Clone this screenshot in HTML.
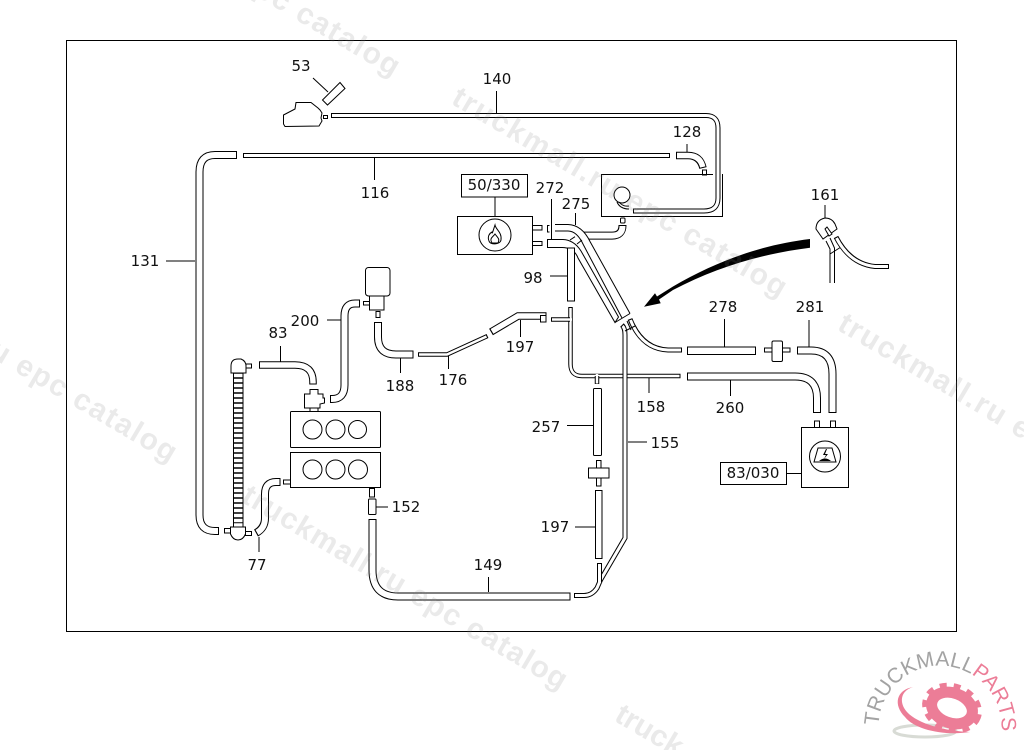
<!DOCTYPE html>
<html><head><meta charset="utf-8"><title>Diagram</title>
<style>
html,body{margin:0;padding:0;background:#fff;width:1024px;height:750px;overflow:hidden}
svg{display:block;overflow:hidden}
text{font-family:"DejaVu Sans","Liberation Sans",sans-serif;font-size:15px;text-anchor:middle;fill:#111}
.l{fill:none;stroke:#000;stroke-width:1}
.s{fill:#fff;stroke:#000;stroke-width:1}
.o,.i{fill:none}
.o{stroke:#000}.i{stroke:#fff}
.wm text{font-family:"Liberation Sans",sans-serif;font-weight:bold;font-size:30px;fill:#808080;fill-opacity:.17;text-anchor:start}
</style></head><body>
<svg width="1024" height="750" viewBox="0 0 1024 750" xmlns="http://www.w3.org/2000/svg">
<rect x="66.5" y="40.5" width="890" height="591" class="s"/>

<!-- tube 140 -->
<g fill="none">
<path class="o" stroke-width="5" d="M331 115.5H706Q718 115.5 718 128V198Q718 211 704 211H633"/>
<path class="i" stroke-width="3" d="M332 115.5H706Q718 115.5 718 128V198Q718 211 704 211H634"/>
<!-- tube 116 -->
<path class="o" stroke-width="5" d="M243 155.5H670"/><path class="i" stroke-width="3" d="M244 155.5H669"/>
<!-- 131 -->
<path class="o" stroke-width="8" d="M237 155H215Q199.5 155 199.5 172V515Q199.5 531 215 531H219"/>
<path class="i" stroke-width="6" d="M236 155H215Q199.5 155 199.5 172V515Q199.5 531 215 531H218"/>
<!-- 128 -->
<path class="o" stroke-width="7.5" d="M676 155.5H688Q700 155.5 703 168"/>
<path class="i" stroke-width="5.5" d="M677 155.5H688Q700 155.5 702.8 167"/>
</g>
<rect x="702.5" y="170" width="4" height="5" class="s"/>
<path class="l" d="M713 174.5H601.5V216.5H722.5V174"/>
<circle cx="622" cy="195" r="8" class="s"/>
<path class="l" d="M617 202Q620 209 629 209M619 202Q623 207 629 206"/>
<path class="l" d="M496.5 91V113M374.5 158V180M687 144V152M166 261H195"/>

<!-- 53 -->
<path class="l" d="M313 78L328 92"/>
<path class="s" d="M340 82.5L345 88.5L327.5 105L322.5 100Z"/>
<path class="s" d="M283.5 115L295 109L296 102.5H311L318 108L320 110L322 113L321 118L322 121L319 126L285 126.5L283.5 124Z"/>
<rect x="323.5" y="115.5" width="4" height="3" class="s"/>

<!-- 50/330 -->
<rect x="461.5" y="174.5" width="66" height="22.5" class="s"/>
<path class="l" d="M495 197V216"/>
<rect x="457.5" y="216.5" width="75" height="38" class="s"/>
<circle cx="495" cy="235" r="16" class="s"/>
<path class="l" d="M495 225C496 230 502 232 501 240C500 245 490 245 489 241C487 236 490 233 492 232C492 235 493 231 495 225Z"/>
<path class="s" stroke-width="1.5" d="M492 243C489 238 493 237 495 234C498 238 500 239 498 243Z"/>
<rect x="532.5" y="225.5" width="9.5" height="4.5" class="s"/>
<rect x="532.5" y="241.5" width="9.5" height="4" class="s"/>
<path class="l" d="M549.5 225.5H547.5V232H549.5"/>

<!-- 272/275 tubes -->
<rect x="620.5" y="218" width="4.5" height="5" rx="1" class="s"/>
<g fill="none">
<path class="o" stroke-width="8" d="M584 235.6H612Q622.5 235.6 622.5 225"/>
<path class="i" stroke-width="6" d="M580 235.6H612Q622.5 235.6 622.5 226"/>
</g>
<path fill="#fff" d="M555 224.5H568Q582 225 590 241.5L630 313.5L622 318L583.5 245Q577 231 568 231H555Z"/>
<path class="l" d="M555 224.5H568Q582 225 590 241.5L630 313.5M555 231H568Q577 231 583.5 245L622 318"/>
<path class="s" d="M547.5 239.5H563Q574 240 581 251L618.5 317L615 322.5L578 258Q574 247.5 562 247.5H547.5Z"/>
<path class="l" d="M570 240L575 236.7M577 244L582 240"/>
<path class="l" d="M551.5 199V239M575.5 213V225"/>
<path class="l" d="M615 322.5L630 313.5"/>
<rect x="567.5" y="248" width="7" height="53" class="s"/>
<path class="l" d="M550 276H567"/>

<!-- T 158 -->
<g fill="none">
<path class="o" stroke-width="4.5" d="M570.5 307V364Q570.5 376 582 376H680.5"/>
<path class="i" stroke-width="2.5" d="M570.5 308V364Q570.5 376 582 376H679.5"/>
<path class="o" stroke-width="4.5" d="M551 319.5H570"/><path class="i" stroke-width="2.5" d="M552 319.5H572"/>
<path class="o" stroke-width="4.5" d="M597 376V384"/><path class="i" stroke-width="2.5" d="M597 374V383.5"/>
<!-- right of junction -->
<path class="o" stroke-width="5" d="M630 319Q642 349 668 350H682"/>
<path class="i" stroke-width="3" d="M630.5 320Q642 349 668 350H681"/>
<!-- 155 -->
<path class="o" stroke-width="5" d="M622 325Q625 328 625 335V538L600.5 580L597 588Q592 595.5 584 595.5H574"/>
<path class="i" stroke-width="3" d="M622.5 326Q625 328 625 335V538L600.5 580L597 588Q592 595.5 584 595.5H575"/>
<path class="o" stroke-width="5" d="M599.5 563V582"/><path class="i" stroke-width="3" d="M599.5 564V583"/>
<!-- 149 -->
<path class="o" stroke-width="8" d="M372.5 519V570Q372.5 596.5 398 596.5H570.5"/>
<path class="i" stroke-width="6" d="M372.5 520V570Q372.5 596.5 398 596.5H569.5"/>
</g>
<path class="l" d="M625 331L635 326M627 321L631 330"/>
<path class="l" d="M628 442H647M649 378V393"/>

<rect x="593.5" y="388.5" width="8" height="67" rx="1" class="s"/>
<path class="l" d="M567 425.5H593"/>
<rect x="596.5" y="460.5" width="4.5" height="8" class="s"/>
<rect x="596.5" y="478" width="4.5" height="8" class="s"/>
<rect x="588.5" y="468" width="20.5" height="10" class="s"/>
<rect x="595.5" y="490.5" width="6.5" height="68" class="s"/>
<path class="l" d="M575 527H595"/>
<rect x="369.5" y="488.5" width="5" height="8.5" class="s"/>
<rect x="368.5" y="499" width="7.5" height="15.5" rx="1" class="s"/>
<path class="l" d="M376 507H388M488.5 577V592"/>

<!-- left area -->
<rect x="365.5" y="267.5" width="24.5" height="28.5" rx="3" class="s"/>
<path class="s" d="M369.5 296H384V310H369.5Z"/>
<rect x="376" y="311.5" width="4" height="6" class="s"/>
<rect x="363.5" y="301.5" width="6" height="3.5" class="s"/>
<g fill="none">
<path class="o" stroke-width="8" d="M360 303.5H355Q344.5 303.5 344.5 316V385Q344.5 399 332 399H330"/>
<path class="i" stroke-width="6" d="M359 303.5H355Q344.5 303.5 344.5 316V385Q344.5 399 332 399H331"/>
<path class="o" stroke-width="7.5" d="M259 365H295Q313 365 313 382V384.5"/>
<path class="i" stroke-width="5.5" d="M260 365H295Q313 365 313 382V383.5"/>
<path class="o" stroke-width="8" d="M378 322V337Q378 354.5 396 354.5H413.5"/>
<path class="i" stroke-width="6" d="M378 323V337Q378 354.5 396 354.5H412.5"/>
<path class="o" stroke-width="4.5" d="M418 354.5H447L487.5 336"/>
<path class="i" stroke-width="2.5" d="M419 354.5H447L486.5 336.5"/>
<path class="o" stroke-width="7.5" d="M491 332L518 316H546.5"/>
<path class="i" stroke-width="5.5" d="M492 331.4L518 316H545.5"/>
<path class="o" stroke-width="8" d="M280.5 482H276Q265 482 265 494V518Q265 528 256 533"/>
<path class="i" stroke-width="6" d="M279.5 482H276Q265 482 265 494V518Q265 528 257 532.5"/>
</g>
<rect x="540.5" y="315.5" width="5.5" height="6.5" class="s"/>
<path class="l" d="M327 320H341M280.5 346V362M400.5 358V373M448.5 356V369M520.5 320V337M259 537V552"/>

<path class="s" d="M304.5 394H310V389.5H318V394H323V398H324.5V403L320 404V408H304.5Z"/>
<path class="l" d="M310 408V411.5M318 408V411.5"/>
<rect x="290.5" y="411.5" width="90" height="36" rx="1" class="s"/>
<circle cx="312.5" cy="429.5" r="9.5" class="s"/><circle cx="335.5" cy="429.5" r="9.5" class="s"/><circle cx="357.5" cy="429.5" r="9" class="s"/>
<rect x="290.5" y="452.5" width="90" height="35" class="s"/>
<circle cx="312.5" cy="469.5" r="9.5" class="s"/><circle cx="335.5" cy="469.5" r="9.5" class="s"/><circle cx="358" cy="469.5" r="9.5" class="s"/>
<rect x="283.5" y="480" width="7" height="4" class="s"/>

<!-- bellows -->
<rect x="233.5" y="373" width="9.5" height="154" fill="#000" stroke="#000"/>
<path stroke="#fff" stroke-width="3.4" d="M234 375.5H242.5M234 380.5H242.5M234 385.5H242.5M234 390.5H242.5M234 395.5H242.5M234 400.5H242.5M234 405.5H242.5M234 410.5H242.5M234 415.5H242.5M234 420.5H242.5M234 425.5H242.5M234 430.5H242.5M234 435.5H242.5M234 440.5H242.5M234 445.5H242.5M234 450.5H242.5M234 455.5H242.5M234 460.5H242.5M234 465.5H242.5M234 470.5H242.5M234 475.5H242.5M234 480.5H242.5M234 485.5H242.5M234 490.5H242.5M234 495.5H242.5M234 500.5H242.5M234 505.5H242.5M234 510.5H242.5M234 515.5H242.5M234 520.5H242.5M234 525H242.5"/>
<path class="s" d="M231 373V366Q231 359 238 359H241Q246 361 246 366V373Z"/>
<rect x="246" y="364" width="5.5" height="4" class="s"/>
<path class="s" d="M230.5 527H245.5V534Q243 540 238 540Q233 540 230.5 534Z"/>
<rect x="245.5" y="531.5" width="6" height="4" class="s"/>
<rect x="224.5" y="528.5" width="6" height="4.5" class="s"/>

<!-- right side -->
<rect x="687.5" y="347" width="68" height="7.5" class="s"/>
<path class="l" d="M724.5 319V347"/>
<rect x="764.5" y="348" width="25.5" height="4" class="s"/>
<rect x="772" y="341" width="10.5" height="20.5" rx="1.5" class="s"/>
<g fill="none">
<path class="o" stroke-width="8" d="M797 350.5H811Q832.5 350.5 832.5 374V413"/>
<path class="i" stroke-width="6" d="M798 350.5H811Q832.5 350.5 832.5 374V412"/>
<path class="o" stroke-width="8" d="M687 376.5H795Q817 376.5 817 398V413"/>
<path class="i" stroke-width="6" d="M688 376.5H795Q817 376.5 817 398V412"/>
</g>
<path class="l" d="M809 320V347M730.5 380V396"/>
<rect x="814.5" y="421" width="5" height="6.5" class="s"/>
<rect x="830.5" y="421" width="5" height="6.5" class="s"/>
<rect x="801.5" y="427.5" width="47" height="60" class="s"/>
<circle cx="825" cy="456.5" r="15.5" class="s"/>
<path class="l" d="M818 448H832L836 462H814Z"/>
<path d="M826 449L823 455L826 455L824 459L828 454L825 454L827 449Z M819 461Q825 456 831 461Z" fill="#000"/>
<rect x="720.5" y="462.5" width="66" height="22" class="s"/>
<path class="l" d="M786.5 473.5H801.5"/>

<!-- 161 -->
<path class="l" d="M825 205V218"/>
<path class="s" d="M823 239L816 229Q816 220 825 218Q832 218 835 224L837 229Z"/>
<path class="s" d="M825 229L827 227L832 234L829 236Z"/>
<path class="l" d="M826 241L830 249V283M830 238L834.5 248V283M830 254L841 247"/>
<g fill="none">
<path class="o" stroke-width="5" d="M836 237Q850 264 875 266.5H889"/>
<path class="i" stroke-width="3" d="M836.5 238Q850 264 875 266.5H888"/>
</g>

<!-- big arrow -->
<path fill="#000" d="M810 239C760 245 715 262 673 286.5L657 296.5L655 293.3L644 306.7L660.7 303.3L659 299.5L673 290C715 268 760 254 810 247.7Z"/>

<!-- labels -->
<text x="301" y="71">53</text>
<text x="497" y="84">140</text>
<text x="687" y="137">128</text>
<text x="375" y="198">116</text>
<text x="494" y="190">50/330</text>
<text x="550" y="193">272</text>
<text x="576" y="209">275</text>
<text x="533" y="283">98</text>
<text x="145" y="266">131</text>
<text x="305" y="326">200</text>
<text x="278" y="338">83</text>
<text x="400" y="391">188</text>
<text x="453" y="385">176</text>
<text x="520" y="352">197</text>
<text x="406" y="512">152</text>
<text x="257" y="570">77</text>
<text x="488" y="570">149</text>
<text x="546" y="432">257</text>
<text x="555" y="532">197</text>
<text x="651" y="412">158</text>
<text x="665" y="448">155</text>
<text x="730" y="413">260</text>
<text x="723" y="312">278</text>
<text x="810" y="312">281</text>
<text x="825" y="200">161</text>
<text x="753" y="478">83/030</text>

<!-- watermarks -->
<g class="wm">
<text transform="translate(450 103) rotate(30.6)" textLength="383">truckmall.ru epc catalog</text>
<text transform="translate(240 501) rotate(30.6)" textLength="372">truckmall.ru epc catalog</text>
<text transform="translate(63 -118) rotate(30.6)" textLength="383">truckmall.ru epc catalog</text>
<text transform="translate(-160 268) rotate(30.6)" textLength="383">truckmall.ru epc catalog</text>
<text transform="translate(836 329) rotate(30.6)" textLength="383">truckmall.ru epc catalog</text>
<text transform="translate(613 720) rotate(30.6)">truck</text>
</g>

<!-- logo -->
<defs><path id="arc" d="M878.6 725.6A61.5 61.5 0 1 1 997.6 749"/></defs>
<text style="font-family:'Liberation Sans',sans-serif;font-size:21px;text-anchor:start;fill:#a3a3a3"><textPath href="#arc" startOffset="0">TRUCKMALL<tspan fill="#ec7d97">PARTS</tspan></textPath></text>
<ellipse cx="925" cy="731" rx="31" ry="6" fill="none" stroke="#d8dbd5" stroke-width="3"/>
<path fill="#ec7d97" d="M913 687C900 691 899 703 907 712C918 724 945 731 970 732C945 736 915 730 905 717C893 705 896 690 913 687Z"/>
<path fill="#ec7d97" d="M903 707C905 716 925 726 945 729C925 730 905 722 902 711Z"/>
<g transform="rotate(20 952 708)">
<ellipse cx="952" cy="708" rx="21" ry="15" fill="none" stroke="#ec7d97" stroke-width="11"/>
<ellipse cx="952" cy="708" rx="28" ry="22" fill="none" stroke="#ec7d97" stroke-width="5" stroke-dasharray="7 7"/>
</g>
</svg>
</body></html>
